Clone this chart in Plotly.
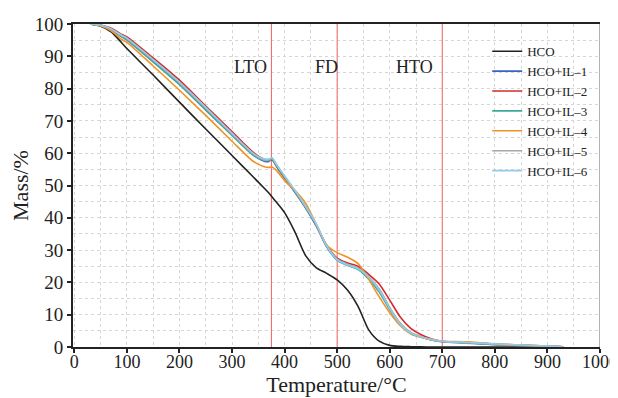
import plotly.graph_objects as go

temperature = [30, 50, 70, 90, 100, 150, 200, 250, 300, 340, 360, 370, 376, 385, 400, 420, 440, 460, 480,
               500, 520, 540, 560, 580, 600, 620, 640, 660, 680, 700, 750, 800, 850, 900, 930]

hco = [100, 99.3, 97.6, 94.2, 92.4, 84.2, 75.8, 67.5, 59.3, 52.7, 49.4, 47.7, 46.5, 44.7, 41.6, 35.5, 28.3,
       24.6, 22.8, 20.8, 17.6, 12.5, 5.3, 1.8, 0.5, 0.2, 0.1, 0.05, 0, 0, 0, 0, 0, 0, 0]
il1 = [100, 99.6, 98.3, 96.2, 95.2, 88.5, 81.5, 73.5, 65.7, 59.5, 57.6, 57.4, 58.3, 55.8, 52.3, 47.8, 43.0,
       37.5, 31.0, 27.0, 25.5, 24.3, 21.5, 17.8, 12.0, 7.2, 4.3, 3.1, 2.2, 1.6, 1.2, 0.7, 0.4, 0.2, 0.1]
il2 = [100, 99.7, 98.7, 96.8, 96.0, 89.5, 82.6, 74.6, 66.7, 60.3, 58.2, 57.8, 58.0, 56.0, 52.5, 48.0, 43.3,
       37.8, 31.5, 27.5, 26.0, 25.0, 22.5, 19.5, 14.5, 9.3, 5.8, 3.8, 2.5, 1.8, 1.4, 0.9, 0.6, 0.3, 0.1]
il3 = [100, 99.6, 98.2, 96.0, 95.0, 88.2, 81.2, 73.3, 65.5, 59.4, 57.8, 57.7, 58.2, 56.0, 52.6, 48.0, 43.2,
       37.8, 31.2, 26.8, 25.2, 24.0, 21.0, 17.0, 11.5, 6.8, 4.1, 3.0, 2.2, 1.7, 1.3, 0.8, 0.5, 0.2, 0.1]
il4 = [100, 99.4, 97.9, 95.2, 94.3, 87.0, 79.5, 71.7, 63.7, 57.5, 55.9, 55.6, 55.7, 54.6, 51.5, 48.4, 44.5,
       38.0, 31.6, 29.2, 27.8, 25.8, 21.0, 15.5, 10.6, 6.6, 4.2, 3.0, 2.2, 1.8, 1.6, 0.9, 0.5, 0.3, 0.1]
il5 = [100, 99.6, 98.4, 96.4, 95.5, 88.8, 81.8, 73.9, 66.0, 59.8, 58.0, 57.9, 58.5, 56.3, 52.8, 48.3, 43.4,
       38.0, 31.5, 27.2, 25.6, 24.4, 21.8, 18.0, 12.3, 7.4, 4.5, 3.2, 2.3, 1.7, 1.3, 0.9, 0.6, 0.3, 0.1]
il6 = [100, 99.6, 98.5, 96.5, 95.6, 89.0, 82.0, 74.2, 66.2, 60.0, 58.3, 58.2, 58.6, 56.5, 53.0, 48.5, 43.6,
       38.2, 31.3, 27.0, 25.4, 24.2, 21.6, 17.6, 12.0, 7.0, 4.3, 3.1, 2.3, 1.8, 1.4, 1.0, 0.6, 0.3, 0.1]

series_names = ["HCO", "HCO+IL–1", "HCO+IL–2", "HCO+IL–3", "HCO+IL–4", "HCO+IL–5", "HCO+IL–6"]
series_values = [hco, il1, il2, il3, il4, il5, il6]
series_colors = ["#222222", "#3b63c4", "#d62a2a", "#3fa89a", "#f39125", "#a8a8a8", "#93cbe8"]

stage_bounds = [375, 500, 700]
stage_labels = ["LTO", "FD", "HTO"]
stage_label_x = [336, 480, 648]
stage_label_y = 86.8

x_ticks = list(range(0, 1001, 100))
y_ticks = list(range(0, 101, 10))

FONT = "Liberation Serif, Times New Roman, serif"

fig = go.Figure()
for b in stage_bounds:
    fig.add_trace(go.Scatter(x=[b, b], y=[0, 100], mode="lines", showlegend=False, hoverinfo="skip",
                             line=dict(color="#f07070", width=1.1)))

for name, vals, col in zip(series_names, series_values, series_colors):
    fig.add_trace(go.Scatter(x=temperature, y=vals, name=name, mode="lines", hoverinfo="skip",
                             line=dict(color=col, width=1.6, shape="spline", smoothing=0.7)))

for lab, lx in zip(stage_labels, stage_label_x):
    fig.add_annotation(x=lx, y=stage_label_y, text=lab, showarrow=False,
                       font=dict(family=FONT, size=18, color="#222"))

# right border (gray)
fig.add_shape(type="line", xref="x", yref="y", x0=1000, x1=1000, y0=0, y1=100,
              line=dict(color="#9a9a9a", width=1.5), layer="above")

grid = dict(showgrid=True, gridcolor="#d6d6d6", griddash="dot", gridwidth=1)

# the page body adds an 8px offset, so the figure is sized to fit the 618x398 window
fig.update_layout(
    width=610, height=390,
    margin=dict(l=65, r=18, t=16, b=51, autoexpand=False),
    paper_bgcolor="white", plot_bgcolor="white",
    font=dict(family=FONT, size=19, color="#222"),
    hovermode=False,
    showlegend=True,
    legend=dict(x=0.786, y=0.962, xanchor="left", yanchor="top",
                bgcolor="rgba(255,255,255,0)", font=dict(family=FONT, size=13, color="#222"),
                tracegroupgap=0, itemwidth=30),
    xaxis=dict(range=[-2.5, 1000], tickvals=x_ticks, ticks="outside", ticklen=4, tickwidth=1.5,
               tickcolor="#222", showline=True, linecolor="#222", linewidth=2, mirror=True,
               automargin=False, ticklabelstandoff=-7, ticklabeloverflow="allow",
               tickfont=dict(size=18), showspikes=False,
               title=dict(text="Temperature/°C", font=dict(size=22), standoff=0),
               minor=dict(dtick=50, showgrid=True, gridcolor="#d6d6d6", griddash="dot"),
               zeroline=False, **grid),
    yaxis=dict(range=[0, 100], tickvals=y_ticks, ticks="outside", ticklen=4, tickwidth=1.5,
               tickcolor="#222", showline=True, linecolor="#222", linewidth=2,
               automargin=False, showspikes=False,
               title=dict(text="Mass/%", font=dict(size=22), standoff=8),
               minor=dict(dtick=5, showgrid=True, gridcolor="#d6d6d6", griddash="dot"),
               zeroline=False, **grid),
)

fig.write_html("out.html")
